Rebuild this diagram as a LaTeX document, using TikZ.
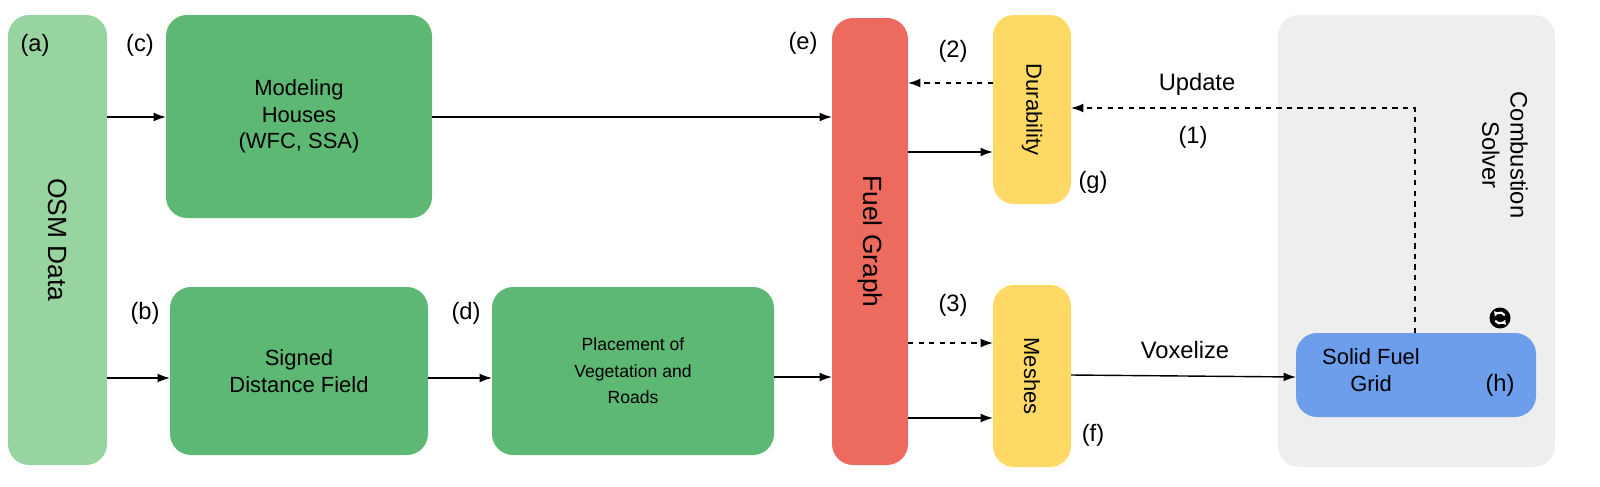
\documentclass[tikz,border=0pt]{standalone}
\usepackage{fontspec}
\setmainfont{Liberation Sans}
\usetikzlibrary{arrows.meta}
\definecolor{lgreen}{HTML}{98D4A0}
\definecolor{mgreen}{HTML}{5DB873}
\definecolor{fred}{HTML}{EC6A5E}
\definecolor{yel}{HTML}{FFD966}
\definecolor{gry}{HTML}{EEEEEE}
\definecolor{blu}{HTML}{6D9EEB}
\tikzset{
 box/.style={rounded corners=12pt, inner sep=0pt, align=center, font=\fontsize{12.5}{15}\selectfont},
 arr/.style={-{Latex[length=7pt,width=5pt]}, line width=0.8pt},
 lab/.style={font=\fontsize{13.5}{16}\selectfont},
}
\newcommand{\pbox}[6]{\node[box, fill=#6, minimum width={(#3-#1)*0.02cm}, minimum height={(#4-#2)*0.02cm}] (#5) at ({(#1+#3)/2},{(#2+#4)/2}) {};}
\begin{document}
\begin{tikzpicture}[x=0.02cm,y=-0.02cm]
\useasboundingbox (0,0) rectangle (1600,487);
\pbox{1278}{15}{1555}{467}{comb}{gry}
\node[rotate=-90, lab, align=center] at (1505,155) {Combustion\\Solver};
\pbox{8}{15}{107}{465}{osm}{lgreen}
\node[rotate=-90, font=\fontsize{15}{18}\selectfont] at (osm) {OSM Data};
\pbox{166}{15}{432}{218}{mh}{mgreen}
\node[box] at (mh) {Modeling\\Houses\\(WFC, SSA)};
\pbox{170}{287}{428}{455}{sdf}{mgreen}
\node[box] at (sdf) {Signed\\Distance Field};
\pbox{492}{287}{774}{455}{veg}{mgreen}
\node[box, font=\fontsize{10}{15}\selectfont] at (veg) {Placement of\\Vegetation and\\Roads};
\pbox{832}{18}{908}{465}{fg}{fred}
\node[rotate=-90, font=\fontsize{15}{18}\selectfont] at (fg) {Fuel Graph};
\pbox{993}{15}{1071}{204}{dur}{yel}
\node[rotate=-90, font=\fontsize{12.5}{15}\selectfont] at (dur) {Durability};
\pbox{993}{285}{1071}{467}{mesh}{yel}
\node[rotate=-90, font=\fontsize{12.5}{15}\selectfont] at (mesh) {Meshes};
\pbox{1296}{333}{1536}{417}{sfg}{blu}
\node[box] at (1371,370) {Solid Fuel\\Grid};
% icon
\node[circle, fill=black, minimum size=0.42cm, inner sep=0pt] (icon) at (1500,318) {};
\draw[white, line width=1.2pt, -{Latex[length=2.5pt,width=3pt]}] (icon.center) ++(150:5.5) arc (150:20:5.5);
\draw[white, line width=1.2pt, -{Latex[length=2.5pt,width=3pt]}] (icon.center) ++(-30:5.5) arc (-30:-160:5.5);
% arrows
\coordinate (a1) at (107,117); \coordinate (a1e) at (166,117);
\draw[arr] (a1) -- (a1e);
\coordinate (a2) at (432,117); \coordinate (a2e) at (832,117);
\draw[arr] (a2) -- (a2e);
\coordinate (b1) at (107,378); \coordinate (b1e) at (170,378);
\draw[arr] (b1) -- (b1e);
\coordinate (b2) at (428,378); \coordinate (b2e) at (492,378);
\draw[arr] (b2) -- (b2e);
\coordinate (b3) at (774,377); \coordinate (b3e) at (832,377);
\draw[arr] (b3) -- (b3e);
\coordinate (g1) at (908,152); \coordinate (g1e) at (993,152);
\draw[arr] (g1) -- (g1e);
\coordinate (g2) at (993,83); \coordinate (g2e) at (908,83);
\draw[arr, dashed] (g2) -- (g2e);
\coordinate (m1) at (908,343); \coordinate (m1e) at (993,343);
\draw[arr, dashed] (m1) -- (m1e);
\coordinate (m2) at (908,418); \coordinate (m2e) at (993,418);
\draw[arr] (m2) -- (m2e);
\coordinate (v1) at (1071,375); \coordinate (v1e) at (1296,377);
\draw[arr] (v1) -- (v1e);
\coordinate (u1) at (1415,333); \coordinate (u2) at (1415,108); \coordinate (u3) at (1071,108);
\draw[arr, dashed] (u1) -- (u2) -- (u3);
% labels
\node[lab] at (1185,350) {Voxelize};
\node[lab] at (1197,84) {Update};
\node[lab] at (1193,137) {(1)};
\node[lab] at (35,45) {(a)};
\node[lab] at (140,45) {(c)};
\node[lab] at (145,313) {(b)};
\node[lab] at (466,313) {(d)};
\node[lab] at (803,43) {(e)};
\node[lab] at (953,51) {(2)};
\node[lab] at (953,305) {(3)};
\node[lab] at (1093,182) {(g)};
\node[lab] at (1093,435) {(f)};
\node[lab] at (1500,385) {(h)};
\end{tikzpicture}
\end{document}
